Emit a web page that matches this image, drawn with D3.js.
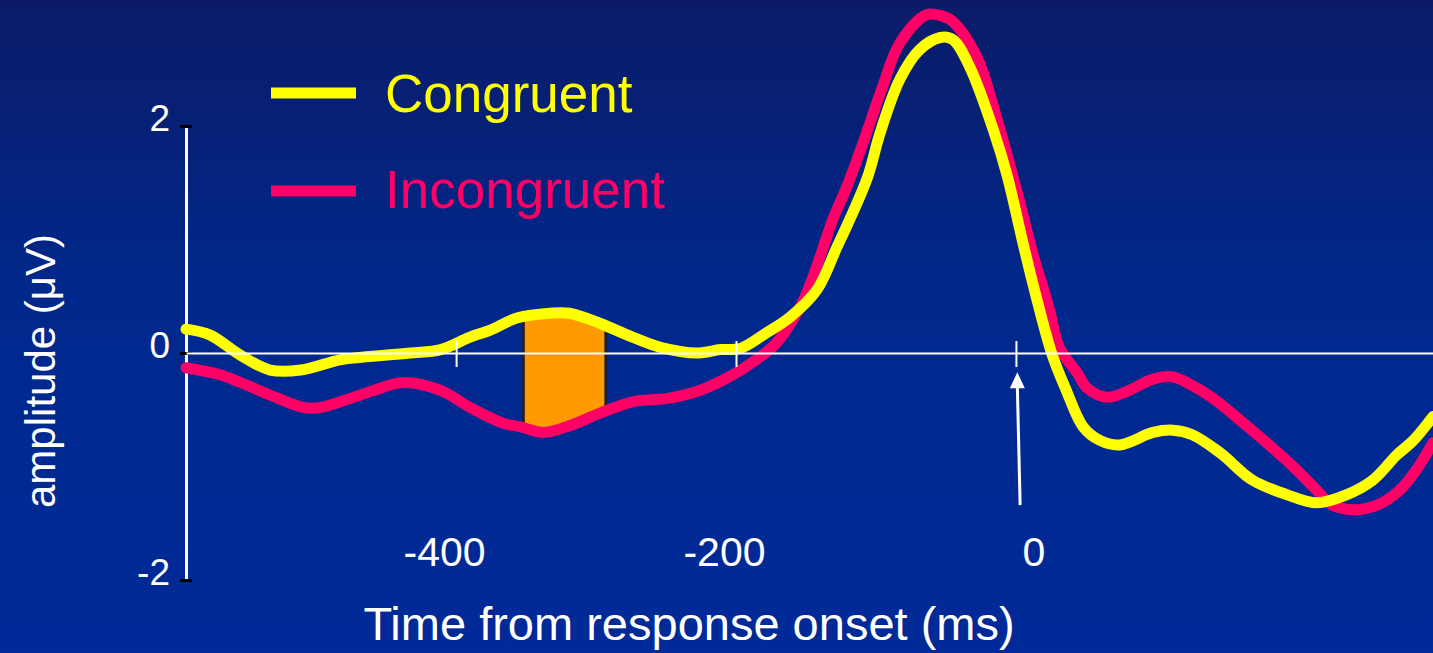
<!DOCTYPE html>
<html>
<head>
<meta charset="utf-8">
<script src="https://cdn.jsdelivr.net/npm/d3@7"></script>
<style>
html,body{margin:0;padding:0;overflow:hidden;background:#002888;}
svg{display:block;}
text{font-family:"Liberation Sans",Arial,Helvetica,sans-serif;}
</style>
</head>
<body>
<svg id="chart" width="1433" height="653"></svg>
<script>
// ---------- data ----------
const seriesNames = ["Congruent", "Incongruent"];
const congruentTime = [-593,-576,-554,-533,-511,-483,-469,-433,-411,-390,-376,-356,-333,-319,-297,-274,-254,-228,-211,-197,-178,-161,-142,-128,-119,-106,-97,-83,-69,-54,-45,-33,-16,-6,5,15,26,36,48,60,74,98,112,126,146,169,194,215,236,255,272,284,298];
const congruentAmp = [0.21,0.16,-0.02,-0.15,-0.15,-0.06,-0.04,0.00,0.03,0.14,0.20,0.31,0.35,0.35,0.26,0.14,0.05,0.00,0.03,0.04,0.18,0.32,0.56,0.93,1.17,1.55,1.94,2.41,2.67,2.78,2.76,2.52,1.96,1.55,0.97,0.47,-0.02,-0.33,-0.65,-0.77,-0.81,-0.70,-0.68,-0.72,-0.88,-1.12,-1.25,-1.32,-1.25,-1.12,-0.90,-0.77,-0.56];
const incongruentTime = [-593,-569,-554,-533,-509,-497,-478,-459,-438,-411,-390,-366,-354,-338,-321,-297,-274,-249,-226,-202,-188,-171,-154,-145,-131,-121,-111,-96,-83,-64,-53,-45,-28,-14,1,12,24,31,44,51,65,79,98,112,122,141,160,179,198,215,226,241,258,274,286,298];
const incongruentAmp = [-0.13,-0.19,-0.26,-0.37,-0.48,-0.48,-0.41,-0.33,-0.26,-0.33,-0.48,-0.62,-0.65,-0.70,-0.65,-0.53,-0.43,-0.40,-0.33,-0.19,-0.08,0.09,0.41,0.67,1.17,1.46,1.79,2.32,2.73,2.98,2.97,2.92,2.61,2.08,1.41,0.88,0.38,0.05,-0.18,-0.31,-0.39,-0.34,-0.23,-0.21,-0.26,-0.40,-0.59,-0.79,-1.00,-1.21,-1.34,-1.38,-1.34,-1.21,-1.03,-0.79];
const xTickValues = [-400, -200, 0];
const yTickValues = [2, 0, -2];
const timeDomain = [-593, 298];
const ampDomain = [-2, 2];
const bandWindow = [-352, -293];      // highlighted time window (ms)
const arrowTimes = [3, 1];            // tail, tip (ms)
const arrowAmps = [-1.34, -0.17];     // tail, tip (µV)
const xTitle = "Time from response onset (ms)";
const yTitle = "amplitude (\u03BCV)";

// ---------- styles ----------
const colors = {congruent:"#ffff00", incongruent:"#ff0066", band:"#ff9900", axis:"#ffffff"};

const W = 1433, H = 653;
const svg = d3.select("#chart");
const defs = svg.append("defs");

const grad = defs.append("linearGradient").attr("id","bg").attr("x1",0).attr("y1",0).attr("x2",0).attr("y2",1);
grad.append("stop").attr("offset","0%").attr("stop-color","#0b1b68");
grad.append("stop").attr("offset","45%").attr("stop-color","#00288c");
grad.append("stop").attr("offset","100%").attr("stop-color","#002a98");
svg.append("rect").attr("width",W).attr("height",H).attr("fill","url(#bg)");

const x = d3.scaleLinear().domain(timeDomain).range([186, 1433]);
const y = d3.scaleLinear().domain(ampDomain).range([580, 126]);

const congruent = congruentTime.map((t,i)=>({t, v:congruentAmp[i]}));
const incongruent = incongruentTime.map((t,i)=>({t, v:incongruentAmp[i]}));

const line = d3.line().x(d=>x(d.t)).y(d=>y(d.v)).curve(d3.curveCatmullRom.alpha(0.5));

// ---------- highlighted band between curves ----------
const topPath = line(congruent);
const botPath = line(incongruent.slice().reverse());
defs.append("clipPath").attr("id","between")
  .append("path").attr("d", topPath + "L" + botPath.slice(1) + "Z");
svg.append("rect")
  .attr("x", x(bandWindow[0])).attr("width", x(bandWindow[1]) - x(bandWindow[0]))
  .attr("y", 0).attr("height", H)
  .attr("fill", colors.band).attr("stroke","#1c1f3a").attr("stroke-width",3)
  .attr("clip-path","url(#between)");

// ---------- y axis ----------
const yAxis = svg.append("g").attr("transform",`translate(${x(timeDomain[0])},0)`)
  .call(d3.axisLeft(y).tickValues(yTickValues).tickSizeOuter(0).tickFormat(d3.format("d")));
yAxis.select(".domain").attr("stroke",colors.axis).attr("stroke-width",3);
yAxis.selectAll(".tick line").attr("x1",-6).attr("x2",6).attr("stroke","#000").attr("stroke-width",3);
yAxis.selectAll(".tick text").attr("x",-16).attr("dy","0.32em").attr("y",-7)
  .attr("fill",colors.axis).attr("font-size",37).attr("font-family",null).attr("text-anchor","end")
  .text(d => d3.format("d")(d).replace("\u2212","-"));

// ---------- curves ----------
svg.append("path").datum(incongruent).attr("d",line)
  .attr("fill","none").attr("stroke",colors.incongruent).attr("stroke-width",11)
  .attr("stroke-linejoin","round").attr("stroke-linecap","round");
svg.append("path").datum(congruent).attr("d",line)
  .attr("fill","none").attr("stroke",colors.congruent).attr("stroke-width",11)
  .attr("stroke-linejoin","round").attr("stroke-linecap","round");

// ---------- x axis (zero line) ----------
const xAxis = svg.append("g").attr("transform",`translate(0,${y(0)})`)
  .call(d3.axisBottom(x).tickValues(xTickValues).tickSizeOuter(0).tickFormat(d3.format("d")));
xAxis.select(".domain").attr("stroke",colors.axis).attr("stroke-width",2);
xAxis.selectAll(".tick line").attr("y1",-12).attr("y2",14).attr("stroke",colors.axis).attr("stroke-width",2);
xAxis.selectAll(".tick text").attr("x",29).attr("y",213).attr("dy",0)
  .attr("text-anchor","end").attr("fill",colors.axis).attr("font-size",41).attr("font-family",null)
  .text(d => d3.format("d")(d).replace("\u2212","-"));

// ---------- arrow ----------
const tip = [x(arrowTimes[1]), y(arrowAmps[1])];
const tail = [x(arrowTimes[0]), y(arrowAmps[0])];
svg.append("line").attr("x1",tail[0]).attr("y1",tail[1]).attr("x2",tip[0]).attr("y2",tip[1]+14)
  .attr("stroke",colors.axis).attr("stroke-width",3);
svg.append("path").attr("d",`M${tip[0]},${tip[1]}L${tip[0]-7.5},${tip[1]+16}L${tip[0]+7.5},${tip[1]+16}Z`)
  .attr("fill",colors.axis);

// ---------- titles ----------
svg.append("text").attr("x",689).attr("y",640).attr("text-anchor","middle")
  .attr("fill",colors.axis).attr("font-size",47).text(xTitle);
svg.append("text").attr("transform","translate(55,371) rotate(-90)").attr("text-anchor","middle")
  .attr("fill",colors.axis).attr("font-size",42).text(yTitle);

// ---------- legend ----------
const legend = svg.append("g");
const legendItems = [
  {name:seriesNames[0], color:colors.congruent, ly:93, ty:112},
  {name:seriesNames[1], color:colors.incongruent, ly:191, ty:208}
];
legendItems.forEach(it=>{
  legend.append("line").attr("x1",271).attr("x2",356).attr("y1",it.ly).attr("y2",it.ly)
    .attr("stroke",it.color).attr("stroke-width",11);
  legend.append("text").attr("x",385).attr("y",it.ty).attr("fill",it.color)
    .attr("font-size",53).text(it.name);
});
</script>
</body>
</html>
